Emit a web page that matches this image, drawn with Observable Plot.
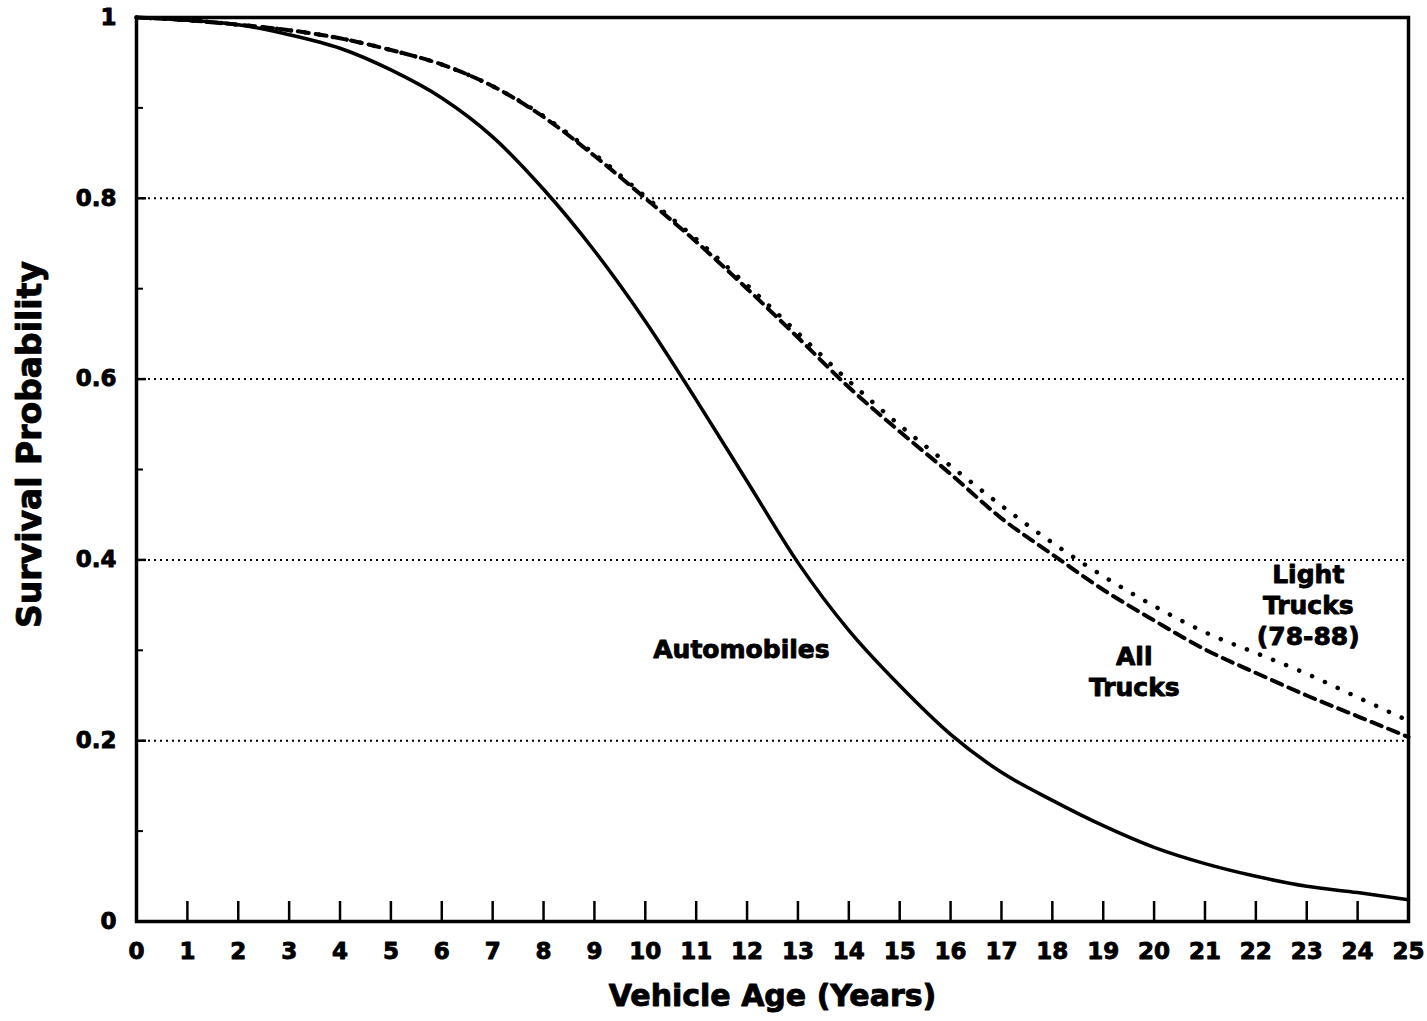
<!DOCTYPE html>
<html>
<head>
<meta charset="utf-8">
<script src="https://cdn.jsdelivr.net/npm/d3@7"></script>
<script src="https://cdn.jsdelivr.net/npm/@observablehq/plot@0.6"></script>
<style>
  html, body { margin: 0; padding: 0; background: #fff; }
  #chart svg { display: block; }
  #chart svg text { stroke: #000; stroke-width: 0.9px; stroke-linejoin: round; }
</style>
</head>
<body>
<div id="chart"></div>
<script>
// ---- Data ----
const ages = [0, 1, 2, 3, 4, 5, 6, 7, 8, 9, 10, 11, 12, 13, 14, 15, 16, 17, 18, 19, 20, 21, 22, 23, 24, 25];
const automobiles = [1.000, 0.997, 0.992, 0.981, 0.966, 0.942, 0.911, 0.868, 0.810, 0.742, 0.664, 0.577, 0.487, 0.397, 0.322, 0.261, 0.207, 0.165, 0.134, 0.106, 0.082, 0.064, 0.050, 0.039, 0.032, 0.024];
const allTrucks   = [1.000, 0.997, 0.992, 0.986, 0.977, 0.964, 0.948, 0.924, 0.890, 0.847, 0.800, 0.752, 0.700, 0.646, 0.591, 0.542, 0.495, 0.446, 0.406, 0.367, 0.333, 0.301, 0.275, 0.250, 0.227, 0.204];
const lightTrucks = [1.000, 0.997, 0.992, 0.986, 0.977, 0.964, 0.948, 0.924, 0.891, 0.849, 0.802, 0.755, 0.704, 0.651, 0.598, 0.549, 0.504, 0.460, 0.419, 0.382, 0.349, 0.320, 0.297, 0.274, 0.248, 0.222];

const yTickValues = [0, 0.2, 0.4, 0.6, 0.8, 1];
const yTickLabels = ["0", "0.2", "0.4", "0.6", "0.8", "1"];
const yMinorTicks = [0.1, 0.3, 0.5, 0.7, 0.9];
const gridValues = [0.2, 0.4, 0.6, 0.8];

const labelTexts = ["Automobiles", "All\nTrucks", "Light\nTrucks\n(78-88)"];
const labelAges  = [11.89, 19.61, 23.03];
const labelProbs = [0.302, 0.278, 0.351];

const xTitle = "Vehicle Age (Years)";
const yTitle = "Survival Probability";

// ---- Layout ----
const W = 1427, H = 1021;
const mL = 136, mR = 19, mT = 17, mB = 100;
const innerW = W - mL - mR, innerH = H - mT - mB;
const font = "'DejaVu Sans', 'Liberation Sans', sans-serif";

const rows = vals => ages.map((a, i) => ({age: a, p: vals[i]}));
const labels = labelTexts.map((t, i) => ({t, x: labelAges[i], y: labelProbs[i]}));

const chart = Plot.plot({
  width: W,
  height: H,
  marginLeft: mL,
  marginRight: mR,
  marginTop: mT,
  marginBottom: mB,
  style: {fontFamily: font, fontWeight: "bold", fontSize: "23px", background: "white", color: "black", overflow: "visible"},
  x: {domain: [0, 25]},
  y: {domain: [0, 1]},
  marks: [
    // dotted horizontal gridlines
    Plot.ruleY(gridValues, {stroke: "black", strokeWidth: 2, strokeDasharray: "2,4"}),
    // inward tick stubs on the y axis
    Plot.ruleY(gridValues, {stroke: "black", strokeWidth: 2.5, insetRight: innerW - 10}),
    Plot.ruleY(yMinorTicks, {stroke: "black", strokeWidth: 2, insetRight: innerW - 7}),
    // inward ticks on the x axis
    Plot.ruleX(ages, {stroke: "black", strokeWidth: 2.5, insetTop: innerH - 20}),
    // series
    Plot.line(rows(automobiles), {x: "age", y: "p", stroke: "black", strokeWidth: 3.5, curve: "monotone-x"}),
    Plot.line(rows(allTrucks), {x: "age", y: "p", stroke: "black", strokeWidth: 4, strokeDasharray: "11,7", curve: "monotone-x"}),
    Plot.line(rows(lightTrucks), {x: "age", y: "p", stroke: "black", strokeWidth: 4.5, strokeDasharray: "0.1,14", strokeLinecap: "round", curve: "monotone-x"}),
    // frame
    Plot.frame({stroke: "black", strokeWidth: 3.5}),
    // axes
    Plot.axisX({ticks: ages, tickSize: 0, tickPadding: 21, label: null, tickFormat: d => String(d), fontSize: 23}),
    Plot.axisY({ticks: yTickValues, tickSize: 0, tickPadding: 20, label: null, tickFormat: d => yTickLabels[yTickValues.indexOf(d)], fontSize: 23}),
    // series annotations
    Plot.text(labels, {x: "x", y: "y", text: "t", fontSize: 25, fontWeight: "bold", lineHeight: 1.25, textAnchor: "middle", lineAnchor: "middle"}),
    // axis titles
    Plot.text([xTitle], {frameAnchor: "bottom", dy: 75, fontSize: 30, fontWeight: "bold", textAnchor: "middle", lineAnchor: "middle"}),
    Plot.text([yTitle], {frameAnchor: "left", dx: -106, dy: -25, rotate: -90, fontSize: 33, fontWeight: "bold", textAnchor: "middle", lineAnchor: "middle"})
  ]
});

document.getElementById("chart").appendChild(chart);
</script>
</body>
</html>
